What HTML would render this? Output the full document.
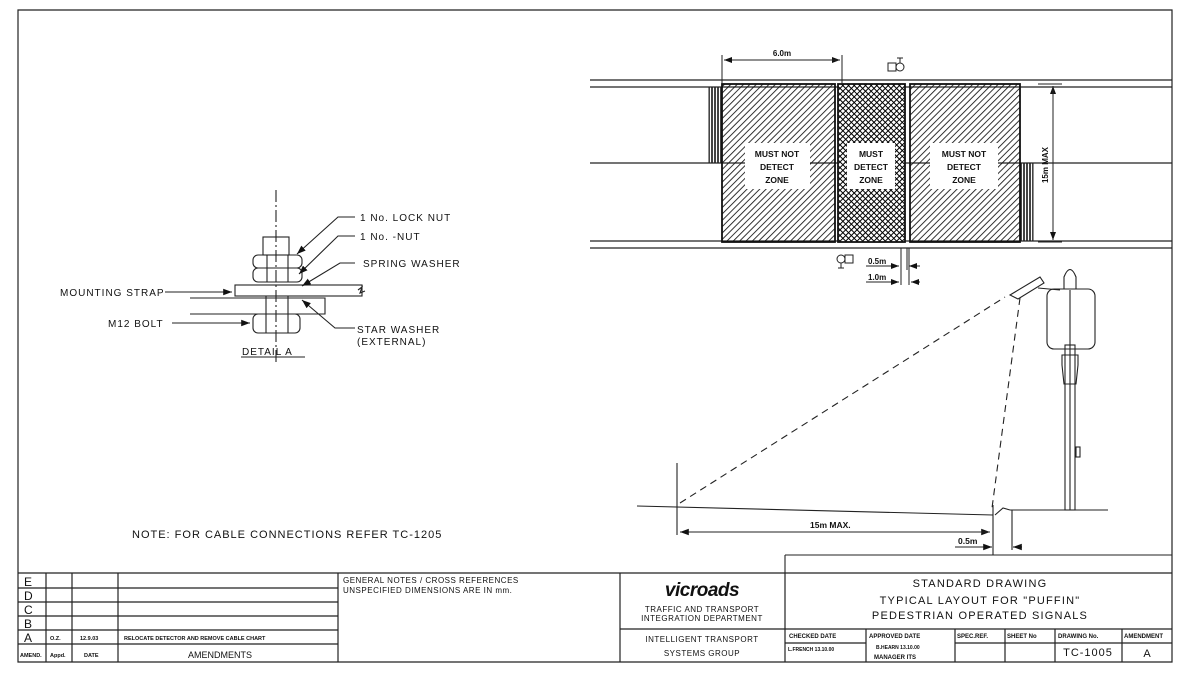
<!DOCTYPE html>
<html><head><meta charset="utf-8"><style>
body{margin:0;background:#fff}
svg{display:block}
text{font-family:"Liberation Sans",sans-serif;fill:#111}
</style></head><body>
<svg width="1200" height="675" viewBox="0 0 1200 675" xmlns="http://www.w3.org/2000/svg">
<defs>
<pattern id="h" patternUnits="userSpaceOnUse" width="4.5" height="4.5" patternTransform="rotate(45)"><line x1="0" y1="0" x2="0" y2="4.5" stroke="#111" stroke-width="1.7"/></pattern>
<pattern id="x" patternUnits="userSpaceOnUse" width="4" height="4" patternTransform="rotate(45)"><rect width="4" height="4" fill="#fff"/><line x1="0" y1="0" x2="0" y2="4" stroke="#000" stroke-width="2"/><line x1="0" y1="0" x2="4" y2="0" stroke="#000" stroke-width="2"/></pattern>
<pattern id="v" patternUnits="userSpaceOnUse" width="3" height="3"><line x1="1" y1="0" x2="1" y2="3" stroke="#222" stroke-width="1.7"/></pattern>
<marker id="a" markerWidth="8" markerHeight="6" refX="8" refY="3" orient="auto"><path d="M0,0 L8,3 L0,6 z" fill="#111"/></marker>
</defs>
<g stroke="#222" fill="none" stroke-width="1.2">
<path d="M18,10 H1172 V662 H18 Z"/>
<line x1="590" y1="80" x2="1172" y2="80"/><line x1="590" y1="87" x2="1172" y2="87"/>
<line x1="590" y1="163" x2="1172" y2="163"/>
<line x1="590" y1="241" x2="1172" y2="241"/><line x1="590" y1="248" x2="1172" y2="248"/>
</g>
<rect x="709" y="87" width="13" height="76" fill="url(#v)" stroke="#222"/>
<rect x="1020" y="163" width="13" height="78" fill="url(#v)" stroke="#222"/>
<rect x="722" y="84" width="113" height="158" fill="url(#h)" stroke="#111" stroke-width="1.8"/>
<rect x="838" y="84" width="67" height="158" fill="url(#x)" stroke="#111" stroke-width="1.8"/>
<rect x="910" y="84" width="110" height="158" fill="url(#h)" stroke="#111" stroke-width="1.8"/>
<rect x="745" y="143" width="65" height="46" fill="#fff"/>
<rect x="847" y="143" width="48" height="46" fill="#fff"/>
<rect x="930" y="143" width="68" height="46" fill="#fff"/>
<g font-size="8.5" text-anchor="middle" font-weight="bold">
<text x="777" y="157">MUST NOT</text><text x="777" y="170">DETECT</text><text x="777" y="183">ZONE</text>
<text x="871" y="157">MUST</text><text x="871" y="170">DETECT</text><text x="871" y="183">ZONE</text>
<text x="964" y="157">MUST NOT</text><text x="964" y="170">DETECT</text><text x="964" y="183">ZONE</text>
</g>
<g stroke="#222" stroke-width="1" fill="none">
<line x1="722" y1="55" x2="722" y2="84"/><line x1="842" y1="55" x2="842" y2="84"/>
<line x1="725" y1="60" x2="840" y2="60" marker-end="url(#a)"/><line x1="840" y1="60" x2="724" y2="60" marker-end="url(#a)"/>
<line x1="1038" y1="84" x2="1062" y2="84"/><line x1="1038" y1="242" x2="1062" y2="242"/>
<line x1="1053" y1="240" x2="1053" y2="86" marker-end="url(#a)"/><line x1="1053" y1="86" x2="1053" y2="240" marker-end="url(#a)"/>
<line x1="901" y1="248" x2="901" y2="285"/><line x1="907" y1="248" x2="907" y2="270"/><line x1="909" y1="248" x2="909" y2="285"/>
<line x1="866" y1="266" x2="899" y2="266" marker-end="url(#a)"/><line x1="920" y1="266" x2="909" y2="266" marker-end="url(#a)"/>
<line x1="866" y1="282" x2="899" y2="282" marker-end="url(#a)"/><line x1="920" y1="282" x2="911" y2="282" marker-end="url(#a)"/>
<rect x="888" y="63" width="8" height="8"/><circle cx="900" cy="67" r="4"/><line x1="900" y1="58" x2="900" y2="63"/><line x1="897" y1="58" x2="903" y2="58"/>
<rect x="845" y="255" width="8" height="8"/><circle cx="841" cy="259" r="4"/><line x1="841" y1="263" x2="841" y2="268"/><line x1="838" y1="268" x2="844" y2="268"/>
</g>
<g font-size="8" font-weight="bold">
<text x="782" y="56" text-anchor="middle">6.0m</text>
<text x="868" y="264">0.5m</text><text x="868" y="280">1.0m</text>
<text x="1048" y="165" transform="rotate(-90 1048 165)" text-anchor="middle">15m MAX</text>
</g>
<g stroke="#222" stroke-width="1.1" fill="none">
<line x1="637" y1="506" x2="993" y2="515"/>
<line x1="677" y1="463" x2="677" y2="535"/>
<line x1="1010" y1="510" x2="1108" y2="510"/>
<line x1="993" y1="505" x2="993" y2="555"/>
<line x1="1012" y1="510" x2="1012" y2="550"/>
<path d="M995,515 L1003,508 L1010,510" />
<line x1="680" y1="503" x2="1005" y2="297" stroke-dasharray="7,5"/>
<line x1="1020" y1="298" x2="992" y2="508" stroke-dasharray="7,5"/>
<path d="M1010,295 L1040,277 L1044,283 L1018,299 Z"/>
<line x1="1038" y1="288" x2="1060" y2="290"/>
<line x1="680" y1="532" x2="990" y2="532" marker-end="url(#a)"/><line x1="990" y1="532" x2="680" y2="532" marker-end="url(#a)"/>
<line x1="955" y1="547" x2="992" y2="547" marker-end="url(#a)"/><line x1="1022" y1="547" x2="1013" y2="547" marker-end="url(#a)"/>
<rect x="1065" y="345" width="10" height="165"/><line x1="1070" y1="290" x2="1070" y2="510"/>
<rect x="1047" y="289" width="48" height="60" rx="7"/>
<path d="M1064,289 V277 Q1070,262 1076,277 V289"/>
<path d="M1062,355 H1078 V365 L1076,384 H1064 L1062,365 Z"/>
<rect x="1076" y="447" width="4" height="10"/>
<line x1="785" y1="555" x2="1172" y2="555"/><line x1="785" y1="555" x2="785" y2="573"/>
</g>
<g font-size="8.5" font-weight="bold">
<text x="810" y="528">15m MAX.</text><text x="958" y="544">0.5m</text>
</g>
<g stroke="#222" stroke-width="1.1" fill="none">
<line x1="276" y1="190" x2="276" y2="365" stroke-dasharray="12,3,2,3"/>
<rect x="263" y="237" width="26" height="18"/>
<rect x="253" y="255" width="49" height="13" rx="5"/>
<rect x="253" y="268" width="49" height="14" rx="5"/>
<line x1="267" y1="255" x2="267" y2="282"/><line x1="288" y1="255" x2="288" y2="282"/>
<rect x="235" y="285" width="127" height="11"/>
<path d="M190,298 H325 V314 H190"/>
<rect x="253" y="314" width="47" height="19" rx="5"/>
<line x1="266" y1="296" x2="266" y2="333"/><line x1="288" y1="296" x2="288" y2="333"/>
<path d="M358,290 L362,287 L360,293 L365,291"/>
<path d="M355,217 H338 L297,254" marker-end="url(#a)"/>
<path d="M355,236 H338 L299,274" marker-end="url(#a)"/>
<path d="M355,263 H340 L302,286" marker-end="url(#a)"/>
<line x1="165" y1="292" x2="232" y2="292" marker-end="url(#a)"/>
<line x1="172" y1="323" x2="250" y2="323" marker-end="url(#a)"/>
<path d="M355,328 H335 L302,300" marker-end="url(#a)"/>
<line x1="241" y1="357" x2="305" y2="357"/>
</g>
<g font-size="10" letter-spacing="1">
<text x="360" y="221">1 No. LOCK NUT</text>
<text x="360" y="240">1 No. -NUT</text>
<text x="363" y="267">SPRING WASHER</text>
<text x="60" y="296">MOUNTING STRAP</text>
<text x="108" y="327">M12 BOLT</text>
<text x="357" y="333">STAR WASHER</text><text x="357" y="345">(EXTERNAL)</text>
<text x="242" y="355">DETAIL A</text>
<text x="132" y="538" font-size="11">NOTE:  FOR CABLE CONNECTIONS REFER TC-1205</text>
</g>
<g stroke="#222" stroke-width="1.2" fill="none">
<line x1="18" y1="573" x2="1172" y2="573"/>
<line x1="18" y1="588" x2="338" y2="588"/><line x1="18" y1="602" x2="338" y2="602"/>
<line x1="18" y1="616" x2="338" y2="616"/><line x1="18" y1="630" x2="338" y2="630"/>
<line x1="18" y1="644" x2="338" y2="644"/>
<line x1="46" y1="573" x2="46" y2="662"/><line x1="72" y1="573" x2="72" y2="662"/>
<line x1="118" y1="573" x2="118" y2="662"/><line x1="338" y1="573" x2="338" y2="662"/>
<line x1="620" y1="573" x2="620" y2="662"/><line x1="785" y1="573" x2="785" y2="662"/>
<line x1="620" y1="629" x2="1172" y2="629"/>
<line x1="785" y1="643" x2="866" y2="643"/><line x1="955" y1="643" x2="1172" y2="643"/>
<line x1="866" y1="629" x2="866" y2="662"/><line x1="955" y1="629" x2="955" y2="662"/>
<line x1="1005" y1="629" x2="1005" y2="662"/><line x1="1055" y1="629" x2="1055" y2="662"/>
<line x1="1122" y1="629" x2="1122" y2="662"/>
</g>
<g font-size="12"><text x="24" y="586">E</text><text x="24" y="600">D</text><text x="24" y="614">C</text><text x="24" y="628">B</text><text x="24" y="642">A</text></g>
<g font-size="5.5" font-weight="bold">
<text x="50" y="640">O.Z.</text><text x="80" y="640">12.9.03</text><text x="124" y="640">RELOCATE DETECTOR AND REMOVE CABLE CHART</text>
<text x="20" y="657">AMEND.</text><text x="50" y="657">Appd.</text><text x="84" y="657">DATE</text>
</g>
<text x="188" y="658" font-size="9">AMENDMENTS</text>
<g font-size="8" letter-spacing="0.5"><text x="343" y="583">GENERAL NOTES / CROSS REFERENCES</text><text x="343" y="593">UNSPECIFIED DIMENSIONS ARE IN mm.</text></g>
<text x="702" y="596" font-size="19" font-weight="bold" text-anchor="middle" font-style="italic" letter-spacing="-0.5">vicroads</text>
<g font-size="8" text-anchor="middle" letter-spacing="0.5">
<text x="702" y="612">TRAFFIC AND TRANSPORT</text><text x="702" y="621">INTEGRATION DEPARTMENT</text>
<text x="702" y="642">INTELLIGENT TRANSPORT</text><text x="702" y="656">SYSTEMS GROUP</text>
</g>
<g font-size="11" text-anchor="middle" letter-spacing="1.2">
<text x="980" y="587">STANDARD DRAWING</text>
<text x="980" y="604">TYPICAL LAYOUT FOR "PUFFIN"</text>
<text x="980" y="619">PEDESTRIAN OPERATED SIGNALS</text>
</g>
<g font-size="6" font-weight="bold">
<text x="789" y="638">CHECKED   DATE</text><text x="869" y="638">APPROVED    DATE</text>
<text x="957" y="638">SPEC.REF.</text><text x="1007" y="638">SHEET No</text><text x="1058" y="638">DRAWING No.</text><text x="1124" y="638">AMENDMENT</text>
<text x="788" y="651" font-size="5">L.FRENCH 13.10.00</text><text x="876" y="649" font-size="5">B.HEARN 13.10.00</text><text x="874" y="659">MANAGER ITS</text>
</g>
<text x="1088" y="656" font-size="11" text-anchor="middle" letter-spacing="1">TC-1005</text>
<text x="1147" y="657" font-size="11" text-anchor="middle">A</text>
</svg>
</body></html>
